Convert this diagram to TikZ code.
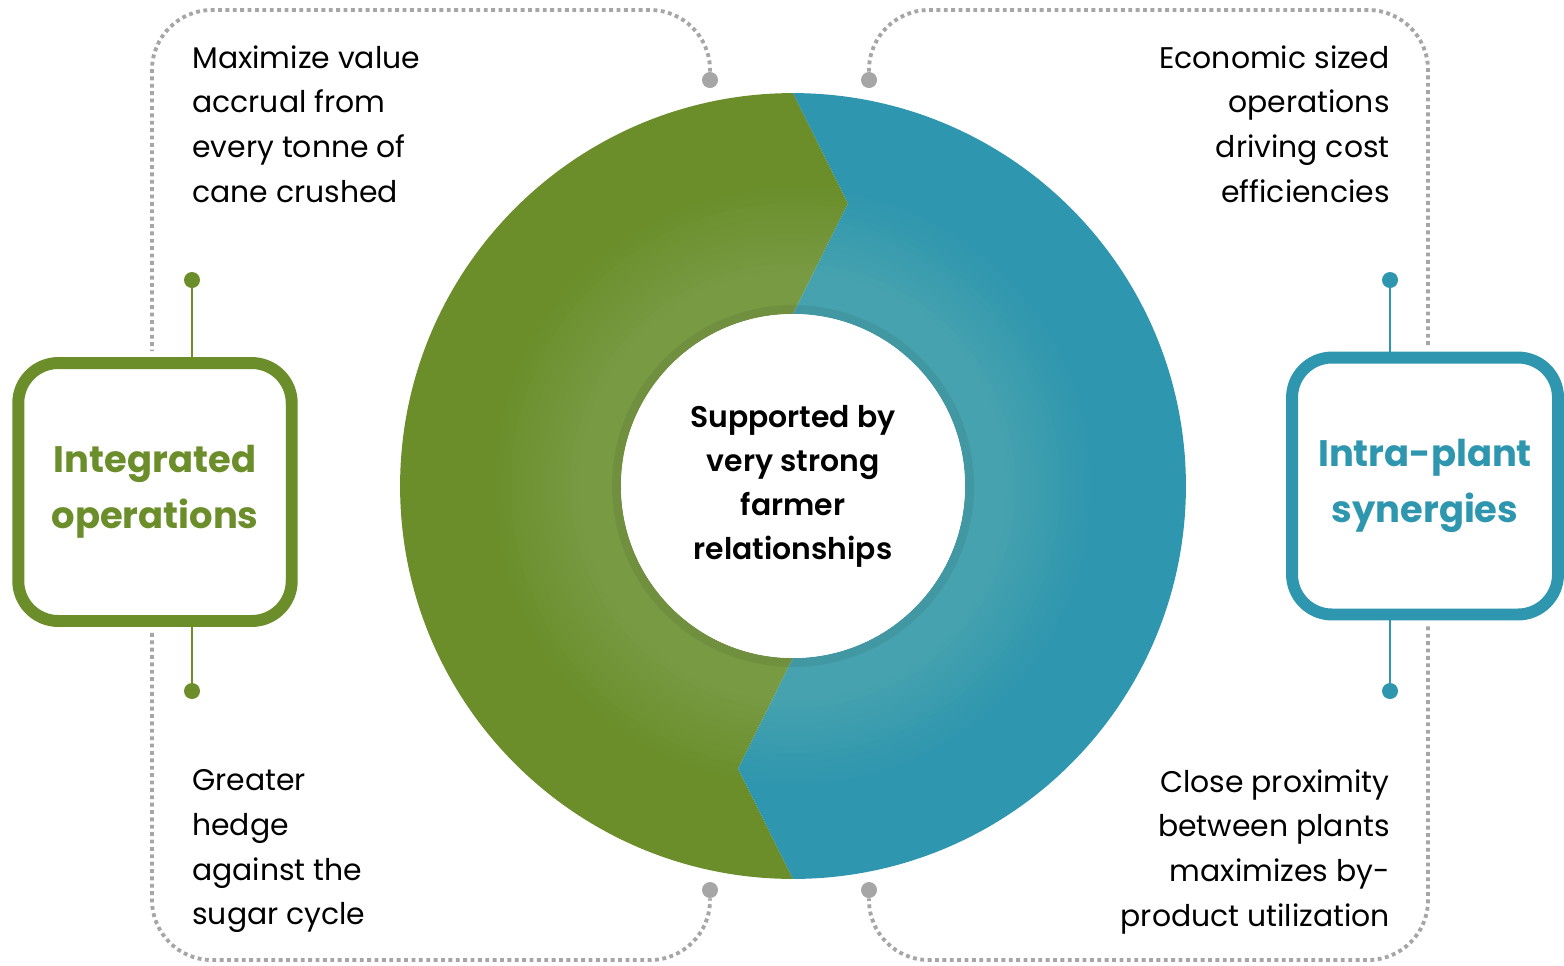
\documentclass[tikz,border=0pt]{standalone}
\usepackage{fontspec}
\setmainfont{Poppins}
\newfontfamily\hubfont{Poppins SemiBold}
\usetikzlibrary{positioning}
\definecolor{leaf}{RGB}{107,142,43}
\definecolor{lagoon}{RGB}{46,150,174}
\definecolor{pebble}{RGB}{166,166,166}

\begin{document}
\begin{tikzpicture}[x=0.02cm,y=-0.02cm,
    catbox/.style={draw, line width=6.8pt, rounded corners=0.8cm, fill=white,
        align=center, inner sep=0pt, font=\bfseries\fontsize{21}{32}\selectfont},
    pin/.style={circle, fill, inner sep=0pt, minimum size=0.32cm},
    greypin/.style={pin, fill=pebble},
    dotline/.style={pebble, line width=2.2pt, dash pattern=on 2.2pt off 2pt,
        rounded corners=1.2cm},
    note/.style={inner sep=0pt, font=\fontsize{17}{25.5}\selectfont}]
        \useasboundingbox (0,0) rectangle (1564,965);

        \coordinate (ringc) at (793,486);
        \begin{scope}[shift={(ringc)}, x=1cm, y=1cm]
            \fill[leaf] (90:7.86) arc[start angle=90, end angle=270, radius=7.86]
                -- (259:5.76) -- (270:3.44) arc[start angle=270, end angle=90, radius=3.44]
                -- (79:5.76) -- cycle;
            \fill[lagoon] (90:7.86) arc[start angle=90, end angle=-90, radius=7.86]
                -- (259:5.76) -- (270:3.44) arc[start angle=-90, end angle=90, radius=3.44]
                -- (79:5.76) -- cycle;
            \foreach \r in {5.95,5.8,...,4.3}
                \fill[white, opacity=0.013] (0,0) circle (\r);
            \fill[black, opacity=0.06] (0,0) circle (3.62);
        \end{scope}
        \node [circle, fill=white, minimum size=6.88cm, inner sep=0pt, align=center,
            font=\hubfont\fontsize{17}{25}\selectfont] (hub) at (ringc)
            {Supported by\\very strong\\farmer\\relationships};

        \node [greypin] (gtl) at (710,80) {};
        \node [greypin] (gtr) at (869,80) {};
        \node [greypin] (gbl) at (710,890) {};
        \node [greypin] (gbr) at (869,890) {};

        \node [catbox, draw=leaf, text=leaf, minimum width=5.47cm, minimum height=5.16cm]
            (integ) at (155,492) {Integrated\\operations};
        \node [catbox, draw=lagoon, text=lagoon, minimum width=5.32cm, minimum height=5.14cm]
            (intra) at (1425,486) {Intra-plant\\synergies};

        \draw[dotline, shorten >=3.4pt] (gtl) |- (152,10) -- (integ.north -| 152,0);
        \draw[dotline, shorten <=3.4pt] (integ.south -| 152,0) -- (152,960) -| (gbl);
        \draw[dotline, shorten >=3.4pt] (gtr) |- (1428,10) -- (intra.north -| 1428,0);
        \draw[dotline, shorten <=3.4pt] (intra.south -| 1428,0) -- (1428,960) -| (gbr);

        \node [pin, leaf] (ltop) at (192,280) {};
        \node [pin, leaf] (lbot) at (192,691) {};
        \node [pin, lagoon] (rtop) at (1390,280) {};
        \node [pin, lagoon] (rbot) at (1390,691) {};
        \draw[leaf, line width=1.1pt] (ltop) -- (ltop |- integ.north);
        \draw[leaf, line width=1.1pt] (lbot) -- (lbot |- integ.south);
        \draw[lagoon, line width=1.1pt] (rtop) -- (rtop |- intra.north);
        \draw[lagoon, line width=1.1pt] (rbot) -- (rbot |- intra.south);

        \node [note, anchor=north west, align=left] (valuenote) at (192,45)
            {Maximize value\\accrual from\\every tonne of\\cane crushed};
        \node [note, anchor=north east, align=right] (costnote) at (1390,45)
            {Economic sized\\operations\\driving cost\\efficiencies};
        \node [note, anchor=north west, align=left] (hedgenote) at (192,769)
            {Greater\\hedge\\against the\\sugar cycle};
        \node [note, anchor=north east, align=right] (bynote) at (1390,769)
            {Close proximity\\between plants\\maximizes by-\\product utilization};
    \end{tikzpicture}
\end{document}
